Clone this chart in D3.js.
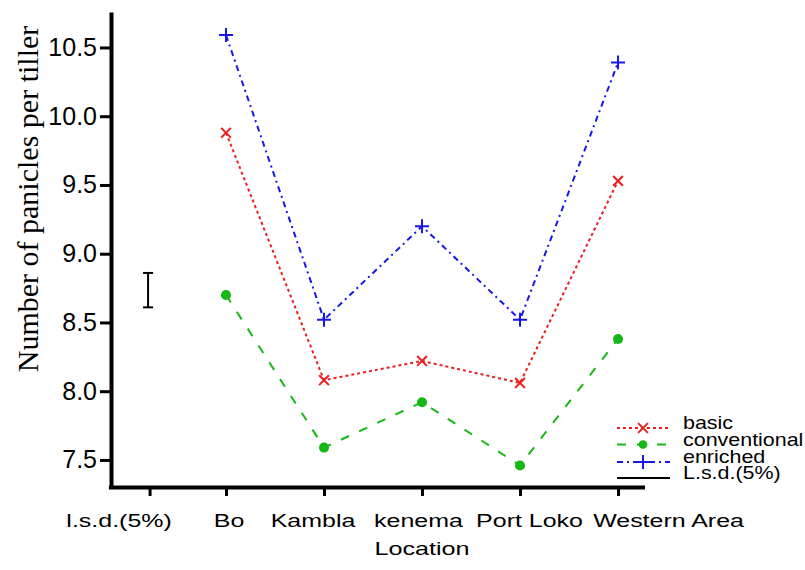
<!DOCTYPE html>
<html>
<head>
<meta charset="utf-8">
<script src="https://cdn.jsdelivr.net/npm/d3@7"></script>
<style>
  body { margin: 0; background: #fff; }
  svg { display: block; }
</style>
</head>
<body>
<svg id="chart" width="805" height="570"></svg>
<script>
// Locations on the x axis
const locations = ["Bo", "Kambla", "kenema", "Port Loko", "Western Area"];
const lsdLabel = "l.s.d.(5%)";

// Number of panicles per tiller
const basic = [9.88, 8.08, 8.22, 8.06, 9.53];
const conventional = [8.70, 7.59, 7.92, 7.46, 8.38];
const enriched = [10.59, 8.52, 9.20, 8.52, 10.39];

// l.s.d. bar (centre and length)
const lsdCentre = 8.735;
const lsdValue = 0.25;

const yTicks = [7.5, 8.0, 8.5, 9.0, 9.5, 10.0, 10.5];

const seriesNames = ["basic", "conventional", "enriched"];
const seriesValues = [basic, conventional, enriched];

const svg = d3.select("#chart");
const sans = "'Liberation Sans', Arial, sans-serif";

// x: category index (Bo = 1 ... Western Area = 5), l.s.d. sits just left of Bo
const x = d3.scaleLinear()
    .domain([-0.2, 5.27])
    .range([108.4, 644.5]);
const lsdPos = 0.22;

const y = d3.scaleLinear()
    .domain([7.296, 10.758])
    .range([488, 12]);

// Styles per series
const styles = {
    basic: { color: "#ee1c1c", dash: "3,3", symbol: d3.symbolTimes, size: 64, fill: false },
    conventional: { color: "#16b816", dash: "9,11", symbol: d3.symbolCircle, size: 80, fill: true },
    enriched: { color: "#1818e6", dash: "6,4,2,4", symbol: d3.symbolPlus, size: 66, fill: false }
};

// Axes
const xAxis = svg.append("g")
    .attr("transform", "translate(0,487)")
    .call(d3.axisBottom(x)
        .tickValues([lsdPos, 1, 2, 3, 4, 5])
        .tickFormat((d, i) => i === 0 ? lsdLabel : locations[i - 1])
        .tickSize(9)
        .tickSizeOuter(0));

const yAxis = svg.append("g")
    .attr("transform", "translate(111,0)")
    .call(d3.axisLeft(y)
        .tickValues(yTicks)
        .tickFormat(d3.format(".1f"))
        .tickSize(11)
        .tickSizeOuter(0)
        .tickPadding(3));

[xAxis, yAxis].forEach(g => {
    g.select(".domain").attr("stroke", "#000").attr("stroke-width", 4);
    g.selectAll(".tick line").attr("stroke", "#000").attr("stroke-width", 3);
    g.selectAll(".tick text")
        .attr("fill", "#000")
        .style("font-family", sans)
        .style("font-size", "25px");
});

// x labels are drawn wide and spread out a little in the original
const labelShift = [-31, 2.5, -11.5, -4, 9, 50];
xAxis.selectAll(".tick text")
    .attr("y", null)
    .attr("dy", null)
    .attr("transform", (d, i) => `translate(${labelShift[i]},40) scale(1.35,1)`)
    .style("font-size", "18.5px");

// Axis titles
svg.append("text")
    .attr("transform", "translate(422,555) scale(1.36,1)")
    .attr("text-anchor", "middle")
    .style("font-family", sans)
    .style("font-size", "18.5px")
    .text("Location");

svg.append("text")
    .attr("transform", "translate(38,199) rotate(-90)")
    .attr("text-anchor", "middle")
    .style("font-family", "'Liberation Serif', 'Times New Roman', serif")
    .style("font-size", "30px")
    .text("Number of panicles per tiller");

// l.s.d. bar
const lsdG = svg.append("g").attr("stroke", "#000").attr("stroke-width", 2);
const lsdTop = y(lsdCentre + lsdValue / 2);
const lsdBot = y(lsdCentre - lsdValue / 2);
const lx = x(lsdPos) - 1.5;
lsdG.append("line").attr("x1", lx).attr("x2", lx).attr("y1", lsdTop).attr("y2", lsdBot);
lsdG.append("line").attr("x1", lx - 5).attr("x2", lx + 5).attr("y1", lsdTop).attr("y2", lsdTop);
lsdG.append("line").attr("x1", lx - 5).attr("x2", lx + 5).attr("y1", lsdBot).attr("y2", lsdBot);

// Series lines and markers
const line = d3.line()
    .x((d, i) => x(i + 1))
    .y(d => y(d));

seriesNames.forEach((name, k) => {
    const s = styles[name];
    const values = seriesValues[k];
    svg.append("path")
        .datum(values)
        .attr("d", line)
        .attr("fill", "none")
        .attr("stroke", s.color)
        .attr("stroke-width", 2)
        .attr("stroke-dasharray", s.dash);
    svg.append("g").selectAll("path")
        .data(values)
        .join("path")
        .attr("transform", (d, i) => `translate(${x(i + 1)},${y(d)})`)
        .attr("d", d3.symbol(s.symbol, s.size))
        .attr("fill", s.fill ? s.color : "none")
        .attr("stroke", s.color)
        .attr("stroke-width", s.fill ? 0 : 2);
});

// Legend
const legend = svg.append("g").attr("transform", "translate(617,428)");
const legendItems = seriesNames.concat(["L.s.d.(5%)"]);
const rowY = [0, 16.5, 34, 50];
legendItems.forEach((name, i) => {
    const s = styles[name];
    const row = legend.append("g").attr("transform", `translate(0,${rowY[i]})`);
    row.append("line")
        .attr("x1", 0).attr("x2", 53)
        .attr("stroke", s ? s.color : "#000")
        .attr("stroke-width", 2)
        .attr("stroke-dasharray", s ? s.dash : null);
    if (s) {
        row.append("path")
            .attr("transform", "translate(26,0)")
            .attr("d", d3.symbol(s.symbol, s.fill ? 60 : s.size))
            .attr("fill", s.fill ? s.color : "none")
            .attr("stroke", s.color)
            .attr("stroke-width", s.fill ? 0 : 2);
    }
    row.append("text")
        .attr("transform", "translate(66,1) scale(1.16,1)")
        .style("font-family", sans)
        .style("font-size", "18.5px")
        .text(name);
});
</script>
</body>
</html>
